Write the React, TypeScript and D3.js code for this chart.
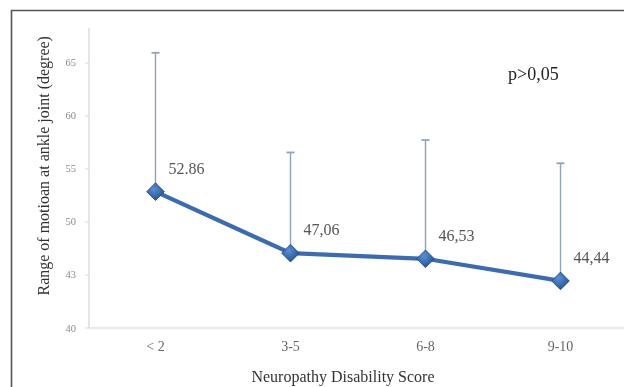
import React from "react";
import * as d3 from "d3";

// Neuropathy disability score groups and mean range of motion at the ankle joint
const categories = ["< 2", "3-5", "6-8", "9-10"];
const means = [52.86, 47.06, 46.53, 44.44];
// upper standard deviation whiskers
const sdUpper = [13.1, 9.5, 11.2, 11.1];
const decimalMarks = [".", ",", ",", ","];
const yTicks = [40, 45, 50, 55, 60, 65];
const yTickLabels = ["40", "43", "50", "55", "60", "65"];
const pValueText = "p>0,05";
const xTitle = "Neuropathy Disability Score";
const yTitle = "Range of motioan at ankle joint (degree)";

const W = 624;
const H = 387;
const FONT = "'Liberation Serif', 'DejaVu Serif', serif";

export default function App() {
  const x = d3.scaleBand<string>().domain(categories).range([88, 628]).padding(0);
  const y = d3.scaleLinear().domain([40, 68.3]).range([328, 28]);
  const cx = (c: string) => (x(c) as number) + x.bandwidth() / 2;

  const line = d3
    .line<number>()
    .x((_, i) => cx(categories[i]))
    .y((d) => y(d));

  const diamond = d3.symbol().type(d3.symbolDiamond2).size(200)();

  return (
    <svg
      width={W}
      height={H}
      style={{ position: "absolute", left: 0, top: 0, display: "block", background: "#fff" }}
      fontFamily={FONT}
    >
      <defs>
        <radialGradient id="mk" cx="40%" cy="35%" r="70%">
          <stop offset="0%" stopColor="#5b8fd0" />
          <stop offset="100%" stopColor="#1f4f8f" />
        </radialGradient>
        <filter id="soft" x="-20%" y="-20%" width="140%" height="140%">
          <feGaussianBlur stdDeviation="0.45" />
        </filter>
      </defs>
      <rect x={0} y={0} width={W} height={H} fill="#fff" />
      <g filter="url(#soft)">
        {/* outer frame (top and left edges) */}
        <line x1={11} y1={10.5} x2={W} y2={10.5} stroke="#555" strokeWidth={1.6} />
        <line x1={11.5} y1={10} x2={11.5} y2={H} stroke="#555" strokeWidth={1.6} />

        {/* axes */}
        <line x1={89} y1={y(68.3)} x2={89} y2={y(40)} stroke="#d0d4d8" strokeWidth={1.2} />
        <line x1={89} y1={y(40)} x2={W} y2={y(40)} stroke="#d0d4d8" strokeWidth={1.2} />
        {yTicks.map((t, i) => (
          <g key={t}>
            <line x1={85} x2={89} y1={y(t)} y2={y(t)} stroke="#d8dbde" strokeWidth={1} />
            <text x={76} y={y(t) + 3.5} textAnchor="end" fontSize={10.5} fill="#8a8a8a">
              {yTickLabels[i]}
            </text>
          </g>
        ))}
        {categories.map((c) => (
          <text key={c} x={cx(c)} y={351} textAnchor="middle" fontSize={14} fill="#666">
            {c}
          </text>
        ))}

        {/* error bars */}
        {means.map((m, i) => {
          const px = cx(categories[i]);
          return (
            <g key={"e" + i} stroke="#8ea3bd">
              <line x1={px} x2={px} y1={y(m)} y2={y(m + sdUpper[i])} strokeWidth={1.4} />
              <line x1={px - 4} x2={px + 4} y1={y(m + sdUpper[i])} y2={y(m + sdUpper[i])} strokeWidth={1.8} />
            </g>
          );
        })}

        {/* mean line */}
        <path d={line(means) as string} fill="none" stroke="#3c6cae" strokeWidth={4.2} strokeLinejoin="round" />
        {means.map((m, i) => (
          <path
            key={"m" + i}
            d={diamond as string}
            transform={`translate(${cx(categories[i])},${y(m)})`}
            fill="url(#mk)"
            stroke="#1f4a85"
            strokeWidth={0.8}
          />
        ))}

        {/* value labels */}
        {means.map((m, i) => (
          <text
            key={"l" + i}
            x={cx(categories[i]) + 13}
            y={y(m) - 18}
            fontSize={16}
            fill="#555"
          >
            {m.toFixed(2).replace(".", decimalMarks[i])}
          </text>
        ))}

        <text x={508} y={80} fontSize={18} fill="#222">
          {pValueText}
        </text>

        {/* axis titles */}
        <text x={343} y={382} textAnchor="middle" fontSize={16} fill="#333">
          {xTitle}
        </text>
        <text
          transform={`translate(49,${y(55.3)}) rotate(-90)`}
          textAnchor="middle"
          fontSize={16}
          fill="#333"
        >
          {yTitle}
        </text>
      </g>
    </svg>
  );
}
